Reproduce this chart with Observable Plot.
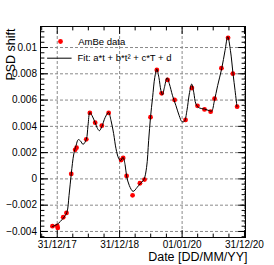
<!DOCTYPE html>
<html><head><meta charset="utf-8">
<script src="https://cdn.jsdelivr.net/npm/d3@7"></script>
<script src="https://cdn.jsdelivr.net/npm/@observablehq/plot@0.6"></script>
<style>body{margin:0;background:#fff;} svg{display:block}</style>
</head><body><div id="chart"></div>
<script>
// AmBe data points
const dataDates = ["2017-12-03","2017-12-31","2018-01-03","2018-02-04","2018-02-23","2018-03-23","2018-04-15","2018-04-23","2018-06-19","2018-07-10","2018-08-10","2018-09-18","2018-10-28","2019-01-09","2019-01-21","2019-02-10","2019-03-17","2019-04-29","2019-05-26","2019-06-30","2019-08-06","2019-09-03","2019-10-08","2019-11-18","2020-01-21","2020-02-27","2020-03-31","2020-05-11","2020-06-16","2020-07-09","2020-08-18","2020-09-26","2020-10-24","2020-11-18"];
const dataShift = [-0.00360,-0.00357,-0.00373,-0.00292,-0.00259,0.00038,0.00221,0.00238,0.00301,0.00502,0.00428,0.00405,0.00502,0.00143,0.00160,0.00023,-0.00125,-0.00033,-0.00005,0.00470,0.00829,0.00651,0.00753,0.00601,0.00449,0.00692,0.00556,0.00529,0.00512,0.00611,0.00843,0.01074,0.00801,0.00550];
// Fit curve
const fitDates = ["2017-12-02","2017-12-31","2018-02-04","2018-02-25","2018-03-10","2018-03-23","2018-04-07","2018-04-20","2018-05-03","2018-05-16","2018-05-31","2018-06-19","2018-06-29","2018-07-10","2018-07-23","2018-08-10","2018-08-24","2018-09-04","2018-09-18","2018-10-07","2018-10-27","2018-11-11","2018-11-26","2018-12-10","2018-12-25","2019-01-06","2019-01-20","2019-02-01","2019-02-10","2019-02-26","2019-03-20","2019-04-13","2019-04-29","2019-05-22","2019-06-07","2019-06-19","2019-06-30","2019-07-12","2019-07-25","2019-08-06","2019-08-18","2019-08-30","2019-09-08","2019-09-19","2019-10-05","2019-10-18","2019-11-06","2019-11-26","2019-12-15","2019-12-31","2020-01-14","2020-01-29","2020-02-12","2020-02-26","2020-03-09","2020-03-22","2020-04-11","2020-05-10","2020-06-09","2020-06-22","2020-07-08","2020-07-27","2020-08-20","2020-09-08","2020-09-24","2020-10-10","2020-10-25","2020-11-06","2020-11-17"];
const fitShift = [-0.003628,-0.003453,-0.002989,-0.002563,-0.00127,0.00038,0.0019,0.00253,0.00299,0.00289,0.00263,0.00301,0.00405,0.00506,0.00481,0.00428,0.00383,0.00367,0.00398,0.00466,0.00506,0.00443,0.00345,0.0023,0.00158,0.00139,0.00164,0.00109,0.00023,-0.00051,-0.00095,-0.00064,-0.00038,-0.00005,0.00088,0.00291,0.0047,0.00618,0.00773,0.00835,0.00773,0.00672,0.00639,0.00694,0.0077,0.00725,0.00633,0.00557,0.00481,0.00436,0.00438,0.00519,0.00646,0.00722,0.00659,0.0057,0.0054,0.00532,0.00519,0.00516,0.00595,0.0071,0.00841,0.00976,0.01082,0.00976,0.00801,0.00672,0.0055];
// Axes
const xTickDates = ["2017-12-31","2018-12-31","2020-01-01","2020-12-31"];
const xTickLabels = ["31/12/17","31/12/18","01/01/20","31/12/20"];
const xMinorDates = ["2017-10-01","2018-04-01","2018-07-01","2018-10-01","2019-04-01","2019-07-01","2019-10-01","2020-04-01","2020-07-01","2020-10-01"];
const yTickValues = [-0.004,-0.002,0,0.002,0.004,0.006,0.008,0.01];
const yTickLabels = ["\u22120.004","\u22120.002","0","0.002","0.004","0.006","0.008","0.01"];
const xDomain = ["2017-09-24","2021-01-06"];
const yDomain = [-0.00446, 0.0116];
const legendLabels = ["AmBe data", "Fit: a*t + b*t\u00b2 + c*T + d"];
const xTitle = "Date [DD/MM/YY]";
const yTitle = "PSD shift";

const parse = s => new Date(s + "T00:00:00Z");
const points = dataDates.map((d, i) => ({date: parse(d), v: dataShift[i]}));
const fit = fitDates.map((d, i) => ({date: parse(d), v: fitShift[i]}));
const xMajor = xTickDates.map(parse);
const xMinor = xMinorDates.map(parse);
const xLabelMap = new Map(xMajor.map((d, i) => [+d, xTickLabels[i]]));
const yLabelMap = new Map(yTickValues.map((v, i) => [v, yTickLabels[i]]));
const yMinor = d3.range(-11, 29).map(i => +(i * 0.0004).toFixed(5));
const xd = xDomain.map(parse);

const tickShape = {draw(ctx, l) { ctx.moveTo(0, 0); ctx.lineTo(0, -l); }};
const tickMarks = (vals, len, side) => {
  const o = {length: len, shape: tickShape, anchor: "start", stroke: "black", strokeWidth: 1};
  if (side === "bottom") return Plot.vector(vals, {...o, x: d => d, y: () => yDomain[0], rotate: 0});
  if (side === "top") return Plot.vector(vals, {...o, x: d => d, y: () => yDomain[1], rotate: 180});
  if (side === "left") return Plot.vector(vals, {...o, y: d => d, x: () => xd[0], rotate: 90});
  return Plot.vector(vals, {...o, y: d => d, x: () => xd[1], rotate: -90});
};

const chart = Plot.plot({
  width: 274, height: 265,
  marginLeft: 40, marginRight: 29, marginTop: 26, marginBottom: 28,
  style: {fontFamily: "'Liberation Sans', Arial, Helvetica, sans-serif", background: "#fff", color: "black"},
  x: {type: "utc", domain: xd, axis: null},
  y: {domain: yDomain, axis: null},
  marks: [
    Plot.gridX(xMajor, {stroke: "#8a8a8a", strokeOpacity: 1, strokeDasharray: "3,2"}),
    Plot.gridY(yTickValues, {stroke: "#8a8a8a", strokeOpacity: 1, strokeDasharray: "3,2"}),
    Plot.dot(points, {x: "date", y: "v", r: 2.4, fill: "#ff0000"}),
    Plot.line(fit, {x: "date", y: "v", stroke: "black", strokeWidth: 1, curve: "catmull-rom"}),
    tickMarks(xMajor, 7, "bottom"), tickMarks(xMinor, 3.5, "bottom"),
    tickMarks(xMajor, 7, "top"), tickMarks(xMinor, 3.5, "top"),
    tickMarks(yTickValues, 7, "left"), tickMarks(yMinor, 3.5, "left"),
    tickMarks(yTickValues, 7, "right"), tickMarks(yMinor, 3.5, "right"),
    Plot.frame({stroke: "black", strokeWidth: 1}),
    Plot.axisX(xMajor, {tickSize: 0, tickPadding: 3, fontSize: 10, tickFormat: d => xLabelMap.get(+d), label: null}),
    Plot.axisY(yTickValues, {tickSize: 0, tickPadding: 3.5, fontSize: 10, tickFormat: d => yLabelMap.get(d), label: null}),
    Plot.text([xTitle], {frameAnchor: "bottom-right", textAnchor: "end", lineAnchor: "middle", dx: 2, dy: 19, fontSize: 12.5, fill: "black"}),
    Plot.text([yTitle], {frameAnchor: "top-left", textAnchor: "end", lineAnchor: "middle", rotate: -90, dx: -30, dy: 2, fontSize: 12.5, fill: "black"}),
    Plot.dot([legendLabels[0]], {frameAnchor: "top-left", dx: 20, dy: 15, r: 2.4, fill: "#ff0000"}),
    Plot.text([legendLabels[0]], {frameAnchor: "top-left", textAnchor: "start", lineAnchor: "middle", dx: 37.7, dy: 15, fontSize: 9.5, fill: "black"}),
    Plot.vector([legendLabels[1]], {frameAnchor: "top-left", dx: 18.85, dy: 31.7, rotate: 90, length: 23.7, anchor: "middle", shape: tickShape, stroke: "black", strokeWidth: 1}),
    Plot.text([legendLabels[1]], {frameAnchor: "top-left", textAnchor: "start", lineAnchor: "middle", dx: 37, dy: 31.7, fontSize: 9.5, fill: "black"})
  ]
});
document.getElementById("chart").appendChild(chart);
</script>
</body></html>
